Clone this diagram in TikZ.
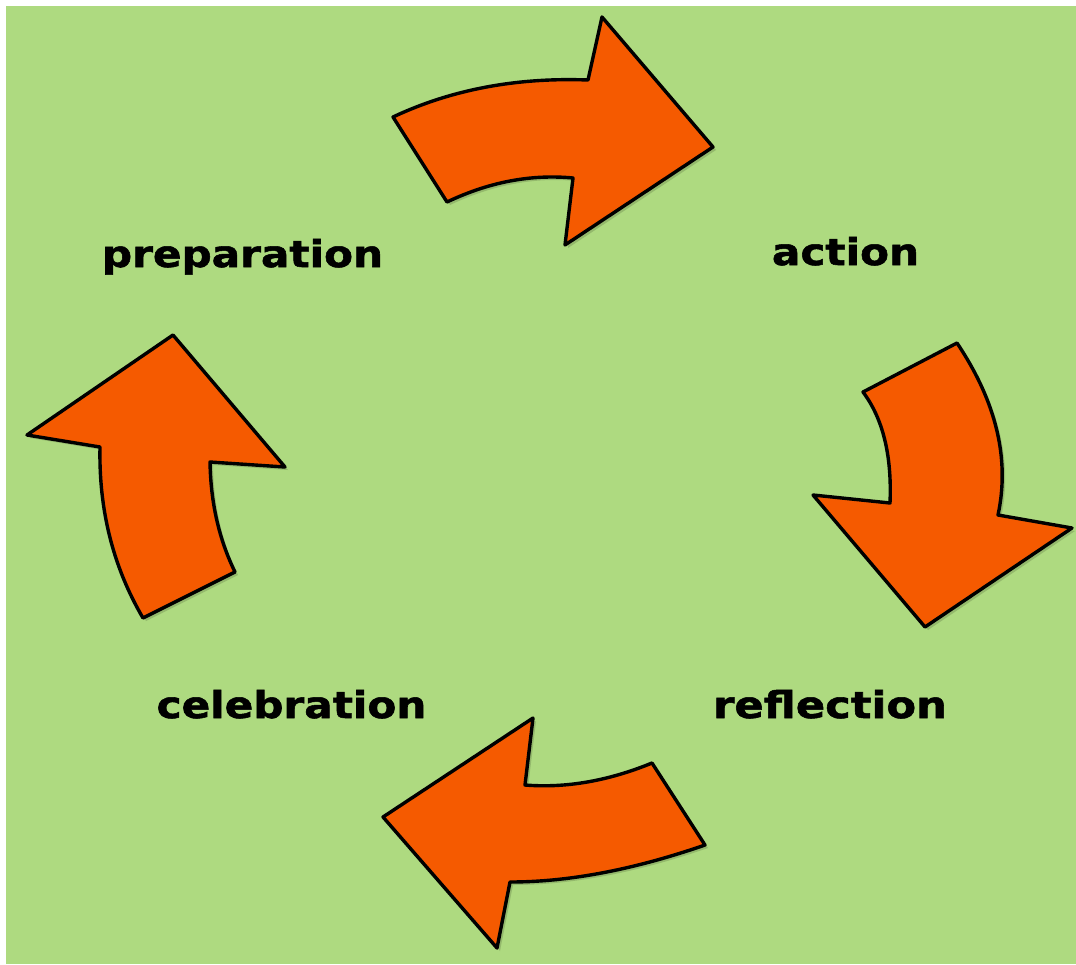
\documentclass[tikz,border=0pt]{standalone}
\usepackage{fontspec}
\setmainfont{DejaVu Sans}
\newfontfamily\labelfont{DejaVu Sans}[BoldFeatures={FakeBold=1.4}]
\usetikzlibrary{shadows}
\definecolor{bggreen}{RGB}{174,218,128}
\definecolor{arroworange}{RGB}{245,90,0}
\tikzset{
  bigarrow/.style={fill=arroworange, draw=black, line width=3.4pt, line join=round,
    drop shadow={shadow xshift=3pt, shadow yshift=-3pt, opacity=0.15, fill=black}},
  label/.style={anchor=base, text=black, font=\fontsize{37}{37}\labelfont\bfseries, inner sep=0pt}
}
\newcommand{\wide}[1]{\scalebox{1.14}[1]{#1}}
\begin{document}
\begin{tikzpicture}[x=1pt,y=-1pt]
\useasboundingbox (0,0) rectangle (1076,964);
\fill[white] (0,0) rectangle (1076,964);
\fill[bggreen] (6,6) rectangle (1076,964);

% top arrow (pointing right)
\path[bigarrow] (393,117) -- (447,202) .. controls (489,182) and (531,174) .. (573,178)
  -- (565,245) -- (713,147) -- (602,17) -- (588,80)
  .. controls (516,77.3) and (451,89.7) .. cycle;

% right arrow (pointing down)
\path[bigarrow] (863,392) -- (957,343) .. controls (996.3,401.7) and (1010,459) .. (998,515)
  -- (1072,528) -- (925,627) -- (813,495) -- (890,503)
  .. controls (892,455.7) and (883,418.7) .. cycle;

% bottom arrow (pointing left)
\path[bigarrow] (652,763) -- (705,845) .. controls (633.7,869.7) and (568.7,882) .. (510,882)
  -- (497,948) -- (383,817) -- (533,718) -- (525,785)
  .. controls (565.7,788.3) and (608,781) .. cycle;

% left arrow (pointing up)
\path[bigarrow] (143,618) -- (235,572) .. controls (219,539.3) and (210.7,502.7) .. (210,462)
  -- (285,467) -- (173,335) -- (27,435) -- (100,447)
  .. controls (98.7,509.7) and (113,566.7) .. cycle;

\node[label] (prep) at (242.5,267) {\wide{preparation}};
\node[label] (act) at (845.5,265) {\wide{action}};
\node[label] (refl) at (830,718) {\scalebox{1.17}[1]{reflection}};
\node[label] (celeb) at (291.5,718) {\wide{celebration}};
\end{tikzpicture}
\end{document}
